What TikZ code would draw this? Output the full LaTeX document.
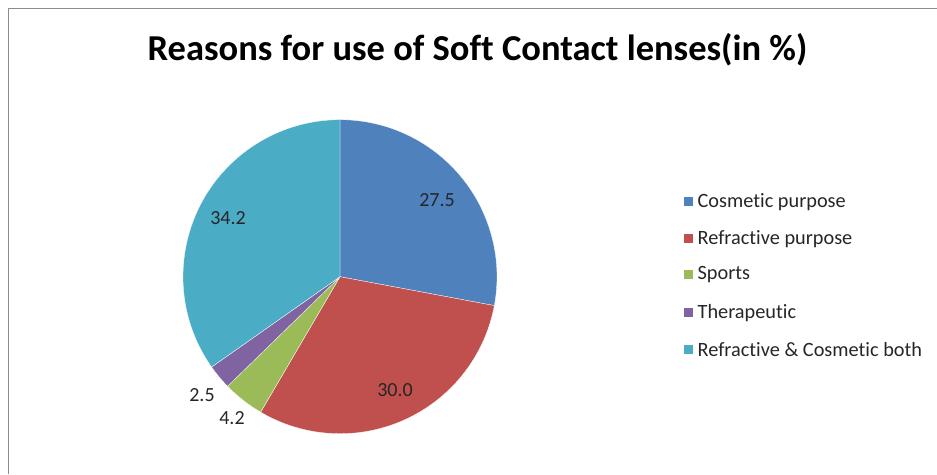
\documentclass[tikz,border=0pt]{standalone}
\usepackage{fontspec}
\setmainfont{Carlito}[Ligatures=NoCommon]
\usepackage{tikz}
\usetikzlibrary{positioning}

\definecolor{cosmetic}{HTML}{4F81BD}
\definecolor{refractive}{HTML}{C0504D}
\definecolor{sports}{HTML}{9BBB59}
\definecolor{therapeutic}{HTML}{8064A2}
\definecolor{both}{HTML}{4BACC6}
\definecolor{framegray}{HTML}{8C8C8C}

\tikzset{
  slice/.style={draw=white, line width=0.3pt},
  vallabel/.style={inner sep=0.75pt, font=\fontsize{20}{24}\selectfont, text=black!85},
  keybox/.style={minimum size=9pt, inner sep=0pt},
  keytext/.style={anchor=west, inner sep=0.75pt, font=\fontsize{20.3}{24}\selectfont, text=black!85}
}

\begin{document}
\begin{tikzpicture}[x=1pt,y=1pt]
\useasboundingbox (0,0) rectangle (937,474);

%Frame
\draw [framegray, line width=1.5pt] (8.5,0) -- (8.5,465.5) -- (937,465.5);

% Text Node
\node (title) at (477.5,424) {\fontsize{36.5}{42}\selectfont\bfseries Reasons for use of Soft Contact lenses(in \%)};

%Pie slices
\coordinate (centre) at (340,197.3);
\foreach \s/\e/\c in {90/-10.61/cosmetic, -10.61/-120.37/refractive, -120.37/-135.73/sports, -135.73/-144.88/therapeutic, -144.88/-270/both}
  \fill [\c, slice] (centre) -- ++(\s:157) arc (\s:\e:157) -- cycle;

% Text Node
\node [vallabel] (v1) at (437,274) {27.5};
\node [vallabel] (v2) at (395,84) {30.0};
\node [vallabel] (v3) at (232,56) {4.2};
\node [vallabel] (v4) at (202,79) {2.5};
\node [vallabel] (v5) at (228,256) {34.2};

%Legend
\node [keybox, fill=cosmetic] (k1) at (688,272) {};
\node [keytext, right=4pt of k1] (t1) {Cosmetic purpose};
\node [keybox, fill=refractive] (k2) at (688,235) {};
\node [keytext, right=4pt of k2] (t2) {Refractive purpose};
\node [keybox, fill=sports] (k3) at (688,199) {};
\node [keytext, right=4pt of k3] (t3) {Sports};
\node [keybox, fill=therapeutic] (k4) at (688,161) {};
\node [keytext, right=4pt of k4] (t4) {Therapeutic};
\node [keybox, fill=both] (k5) at (688,124) {};
\node [keytext, right=4pt of k5] (t5) {Refractive \& Cosmetic both};
\end{tikzpicture}
\end{document}
